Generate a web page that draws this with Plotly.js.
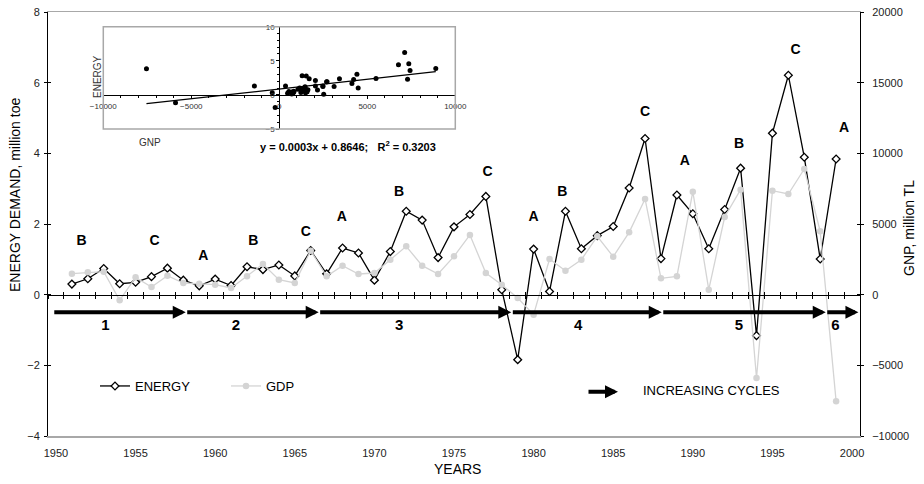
<!DOCTYPE html>
<html><head><meta charset="utf-8">
<script src="https://cdn.plot.ly/plotly-3.0.1.min.js"></script>
<style>html,body{margin:0;padding:0;background:#fff}</style>
</head><body>
<div id="chart" style="width:924px;height:484px"></div>
<script>
// ---- data ----
const years = [1951,1952,1953,1954,1955,1956,1957,1958,1959,1960,
  1961,1962,1963,1964,1965,1966,1967,1968,1969,1970,
  1971,1972,1973,1974,1975,1976,1977,1978,1979,1980,
  1981,1982,1983,1984,1985,1986,1987,1988,1989,1990,
  1991,1992,1993,1994,1995,1996,1997,1998,1999];
const energy = [0.30,0.45,0.74,0.31,0.35,0.51,0.75,0.41,0.25,0.44,
  0.26,0.79,0.71,0.84,0.53,1.25,0.59,1.32,1.18,0.41,
  1.22,2.36,2.11,1.05,1.92,2.27,2.78,0.14,-1.84,1.29,
  0.09,2.36,1.30,1.67,1.93,3.02,4.42,1.02,2.82,2.29,
  1.30,2.41,3.58,-1.16,4.57,6.21,3.89,1.01,3.84];
const gdp = [1486,1580,1627,-400,1226,542,1344,826,778,707,
  471,1297,2170,1061,826,3113,1296,2052,1463,1533,
  2476,3418,2052,1463,2712,4223,1533,707,-236,-1415,
  2524,1698,2476,4127,2688,4410,6771,1155,1297,7287,
  354,5495,7429,-5896,7358,7122,8891,4481,-7547];
const phaseText  = ['B','C','A','B','C','A','B','C','A','B','C','A','B','C','A'];
const phaseYear  = [1951.6,1956.2,1959.25,1962.4,1965.7,1967.95,1971.55,1977.1,1980.0,1981.8,1987.0,1989.5,1992.9,1996.45,1999.5];
const phaseLevel = [1.51,1.51,1.07,1.51,1.77,2.19,2.88,3.46,2.19,2.88,5.16,3.76,4.26,6.9,4.70];
const cycleNames = ['1','2','3','4','5','6'];
const cycleLabelYear = [1953.1,1961.3,1971.55,1982.8,1992.9,1998.95];
const cycleBounds = [1949.8,1958.15,1966.5,1978.6,1988.05,1998.35,2000.4];
const cycleLevel = -0.5, cycleLabelLevel = -0.9;
const eqText = '<b>y = 0.0003x + 0.8646;&nbsp;&nbsp; R<sup>2</sup> = 0.3203</b>';

// ---- ranges / domains ----
const xRange = [1949.5, 2000.5], yRange = [-4, 8], y2Range = [-10000, 20000];
const inXRange = [-10000, 10000], inYRange = [-5, 10];
const inXDom = [0.0681, 0.5016], inYDom = [0.724, 0.9653];
const frac = (v, r) => (v - r[0]) / (r[1] - r[0]);
const zeroPos = frac(0, yRange);
const inXPos = inYDom[0] + frac(0, inYRange) * (inYDom[1] - inYDom[0]);
const inYPos = inXDom[0] + frac(0, inXRange) * (inXDom[1] - inXDom[0]);

// linear trend of energy on GNP
const n = gdp.length;
const mx = gdp.reduce((a,b)=>a+b,0)/n, my = energy.reduce((a,b)=>a+b,0)/n;
let sxy = 0, sxx = 0;
for (let i=0;i<n;i++){ sxy += (gdp[i]-mx)*(energy[i]-my); sxx += (gdp[i]-mx)**2; }
const slope = sxy/sxx, icpt = my - slope*mx;
const fitX = [Math.min(...gdp), Math.max(...gdp)];
const fitY = fitX.map(v => icpt + slope*v);

const FONT = 'Liberation Sans, Arial, sans-serif';
const empty = (xa, ya) => ({x: [], y: [], type: 'scatter', mode: 'markers', xaxis: xa, yaxis: ya,
  showlegend: false, hoverinfo: 'skip'});
const traces = [
  {x: years, y: energy, name: 'ENERGY', type: 'scatter', mode: 'lines+markers',
   xaxis: 'x', yaxis: 'y', line: {color: '#000', width: 1.3},
   marker: {symbol: 'diamond', size: 6, color: '#fff', line: {color: '#000', width: 1.3}}},
  {x: years, y: gdp, name: 'GDP', type: 'scatter', mode: 'lines+markers',
   xaxis: 'x', yaxis: 'y2', line: {color: '#d4d4d4', width: 1.3},
   marker: {symbol: 'circle', size: 6.5, color: '#d4d4d4'}},
  empty('x2', 'y'), empty('x3', 'y'), empty('x', 'y3'), empty('x', 'y4'),
  {x: phaseYear, y: phaseLevel, text: phaseText.map(t => '<b>'+t+'</b>'), mode: 'text', type: 'scatter',
   xaxis: 'x', yaxis: 'y', showlegend: false, hoverinfo: 'skip', cliponaxis: false,
   textfont: {family: FONT, size: 14, color: '#000'}},
  {x: cycleLabelYear, y: cycleLabelYear.map(() => cycleLabelLevel), text: cycleNames.map(t => '<b>'+t+'</b>'),
   mode: 'text', type: 'scatter', xaxis: 'x', yaxis: 'y', showlegend: false, hoverinfo: 'skip', cliponaxis: false,
   textfont: {family: FONT, size: 15, color: '#000'}},
  {x: gdp, y: energy, mode: 'markers', type: 'scatter', xaxis: 'x5', yaxis: 'y5', showlegend: false,
   hoverinfo: 'skip', marker: {color: '#000', size: 5}},
  {x: fitX, y: fitY, mode: 'lines', type: 'scatter', xaxis: 'x5', yaxis: 'y5', showlegend: false,
   hoverinfo: 'skip', line: {color: '#000', width: 1.3}}
];

const annotations = [];
for (let i = 0; i < cycleBounds.length - 1; i++) {
  annotations.push({x: cycleBounds[i+1], y: cycleLevel, ax: cycleBounds[i], ay: cycleLevel,
    xref: 'x', yref: 'y', axref: 'x', ayref: 'y', text: '', showarrow: true,
    arrowhead: 2, arrowsize: 0.65, arrowwidth: 4, arrowcolor: '#000', standoff: 0});
}
annotations.push(
  {xref: 'paper', yref: 'paper', x: (618-48)/812, y: (436-391.7)/424, ax: -31, ay: 0, text: '',
   showarrow: true, arrowhead: 2, arrowsize: 0.65, arrowwidth: 4, arrowcolor: '#000'},
  {xref: 'paper', yref: 'paper', x: (641-48)/812, y: (436-390)/424, xanchor: 'left', yanchor: 'middle',
   text: 'INCREASING CYCLES', showarrow: false, font: {size: 13, color: '#000'}},
  {xref: 'paper', yref: 'paper', x: (15-48)/812, y: (436-195)/424, textangle: -90, xanchor: 'center', yanchor: 'middle',
   text: 'ENERGY DEMAND, million toe', showarrow: false, font: {size: 14, color: '#000'}},
  {xref: 'paper', yref: 'paper', x: (909-48)/812, y: (436-228)/424, textangle: -90, xanchor: 'center', yanchor: 'middle',
   text: 'GNP, million TL', showarrow: false, font: {size: 14, color: '#000'}},
  {xref: 'paper', yref: 'paper', x: (457-48)/812, y: (436-469)/424, xanchor: 'center', yanchor: 'middle',
   text: 'YEARS', showarrow: false, font: {size: 14, color: '#000'}},
  {xref: 'paper', yref: 'paper', x: (97-48)/812, y: (436-77)/424, textangle: -90, xanchor: 'center', yanchor: 'middle',
   text: 'ENERGY', showarrow: false, font: {size: 10, color: '#333'}},
  {xref: 'paper', yref: 'paper', x: (150-48)/812, y: (436-142)/424, xanchor: 'center', yanchor: 'middle',
   text: 'GNP', showarrow: false, font: {size: 10, color: '#333'}},
  {xref: 'paper', yref: 'paper', x: (348-48)/812, y: (436-146)/424, xanchor: 'center', yanchor: 'middle',
   text: eqText, showarrow: false, font: {size: 11, color: '#000'}}
);

const base = {showgrid: false, zeroline: false, fixedrange: true, exponentformat: 'none', separatethousands: false};
const layout = {
  width: 924, height: 484,
  margin: {l: 48, r: 64, t: 12, b: 48, pad: 0},
  paper_bgcolor: '#fff', plot_bgcolor: 'rgba(0,0,0,0)',
  font: {family: FONT, size: 11, color: '#000'},
  showlegend: true,
  legend: {orientation: 'h', x: (95-48)/812, y: (436-386)/424, xanchor: 'left', yanchor: 'middle',
    font: {size: 13, color: '#000'}, bgcolor: 'rgba(0,0,0,0)', entrywidth: 86, entrywidthmode: 'pixels',
    itemwidth: 30, traceorder: 'normal'},
  hovermode: false,
  xaxis: Object.assign({}, base, {domain: [0,1], range: xRange, tickmode: 'linear', tick0: 1950, dtick: 5,
    ticks: '', showline: true, linecolor: '#a8a8a8', linewidth: 1.5, mirror: true, tickformat: 'd',
    tickfont: {size: 11, color: '#222'}, ticklabelstandoff: 6, anchor: 'y'}),
  xaxis2: Object.assign({}, base, {overlaying: 'x', anchor: 'free', position: zeroPos, range: xRange,
    tickmode: 'linear', tick0: xRange[0], dtick: 1, ticks: 'outside', ticklen: 3, tickcolor: '#000',
    showticklabels: false, showline: true, linecolor: '#000', linewidth: 1}),
  xaxis3: Object.assign({}, base, {overlaying: 'x', anchor: 'free', position: zeroPos, range: xRange,
    tickmode: 'linear', tick0: xRange[0], dtick: 1, ticks: 'inside', ticklen: 3, tickcolor: '#000',
    showticklabels: false, showline: false}),
  yaxis: Object.assign({}, base, {range: yRange, tickmode: 'linear', tick0: 0, dtick: 2, ticks: 'outside',
    ticklen: 3, tickcolor: '#000', showline: true, linecolor: '#000', linewidth: 1, anchor: 'x',
    tickfont: {size: 11, color: '#222'}, ticklabelstandoff: 2}),
  yaxis2: Object.assign({}, base, {overlaying: 'y', side: 'right', anchor: 'x', range: y2Range, tickmode: 'linear',
    tick0: 0, dtick: 5000, ticks: 'outside', ticklen: 3, tickcolor: '#000', showline: true, linecolor: '#000',
    linewidth: 1, tickformat: 'd', tickfont: {size: 11, color: '#222'}, ticklabelstandoff: 6}),
  yaxis3: Object.assign({}, base, {overlaying: 'y', side: 'left', anchor: 'x', range: yRange, tickmode: 'linear',
    tick0: 0, dtick: 2, ticks: 'inside', ticklen: 3, tickcolor: '#000', showticklabels: false, showline: false}),
  yaxis4: Object.assign({}, base, {overlaying: 'y', side: 'right', anchor: 'x', range: y2Range, tickmode: 'linear',
    tick0: 0, dtick: 5000, ticks: 'inside', ticklen: 3, tickcolor: '#000', showticklabels: false, showline: false}),
  xaxis5: Object.assign({}, base, {domain: inXDom, anchor: 'free', position: inXPos, range: inXRange,
    tickmode: 'linear', tick0: 0, dtick: 5000, ticks: 'outside', ticklen: 3, tickcolor: '#000', tickformat: 'd',
    minor: {tickmode: 'linear', tick0: 0, dtick: 1000, ticks: 'outside', ticklen: 2, tickcolor: '#000'},
    showline: true, linecolor: '#000', linewidth: 1, tickfont: {size: 8, color: '#333'}}),
  yaxis5: Object.assign({}, base, {domain: inYDom, anchor: 'free', position: inYPos, range: inYRange,
    tickmode: 'linear', tick0: 0, dtick: 5, ticks: 'outside', ticklen: 3, tickcolor: '#000',
    minor: {tickmode: 'linear', tick0: 0, dtick: 1, ticks: 'outside', ticklen: 2, tickcolor: '#000'},
    showline: true, linecolor: '#000', linewidth: 1, tickfont: {size: 8, color: '#333'}}),
  shapes: [
    {type: 'rect', xref: 'x5 domain', yref: 'y5 domain', x0: 0, x1: 1, y0: 0, y1: 1,
     line: {color: '#a8a8a8', width: 1.5}, fillcolor: 'rgba(0,0,0,0)'}
  ],
  annotations: annotations
};

Plotly.newPlot('chart', traces, layout, {staticPlot: true, displayModeBar: false});
</script>
</body></html>
